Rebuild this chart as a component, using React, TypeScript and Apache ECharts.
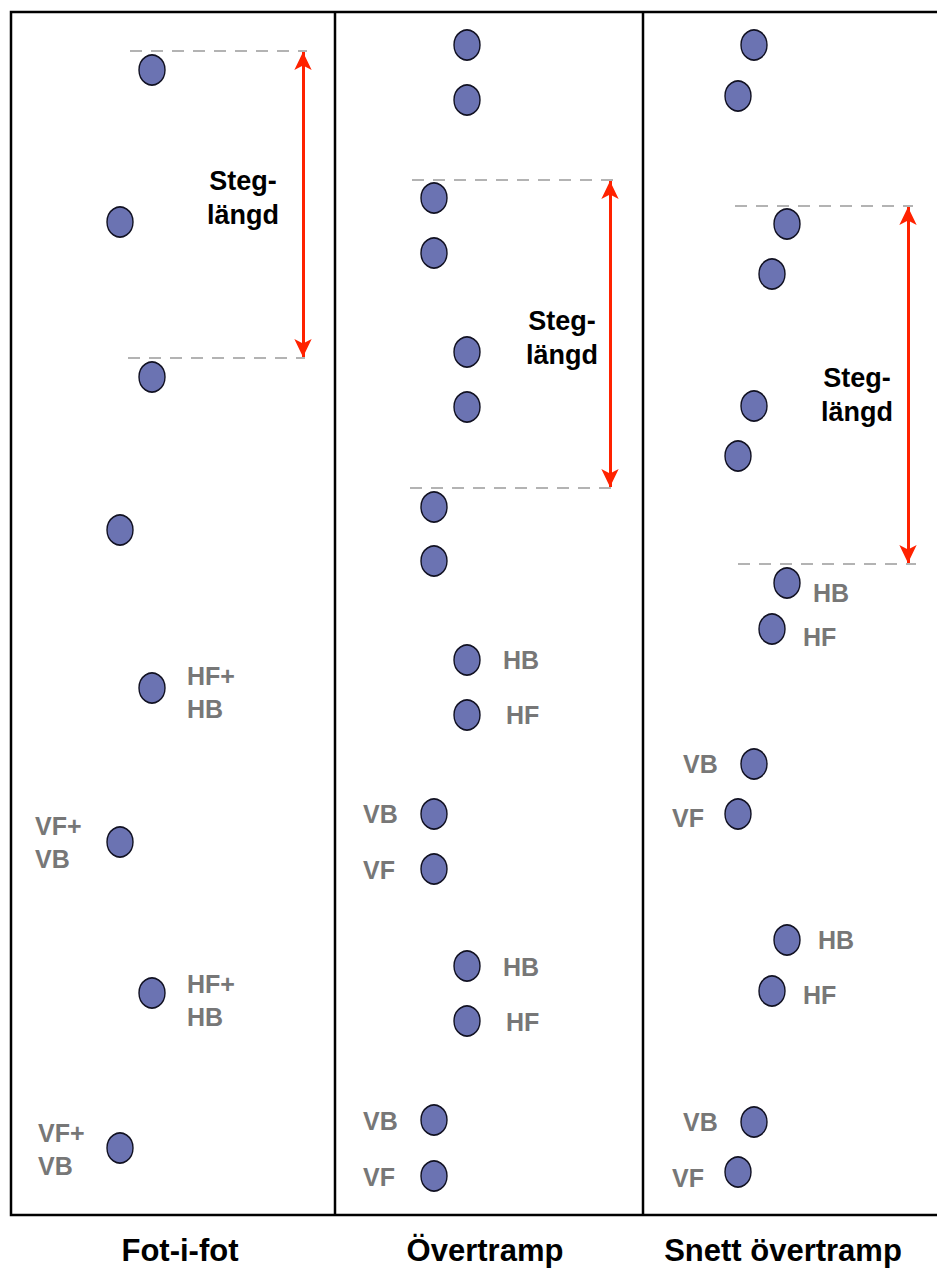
import React, { useEffect, useRef } from "react";
import * as echarts from "echarts";

const W = 937;
const H = 1269;

// Hoof prints [x, y] per panel
const fotPrints = [
  [152, 70], [120, 222], [152, 377], [120, 530],
  [152, 688], [120, 842], [152, 993], [120, 1148],
];
const overPrints = [
  [467, 45], [467, 100], [434, 198], [434, 253],
  [467, 352], [467, 407], [434, 507], [434, 561],
  [467, 660], [467, 715], [434, 814], [434, 869],
  [467, 966], [467, 1021], [434, 1120], [434, 1176],
];
const snettPrints = [
  [754, 45], [738, 96], [787, 224], [772, 274],
  [754, 406], [738, 456], [787, 583], [772, 629],
  [754, 764], [738, 814], [787, 940], [772, 991],
  [754, 1122], [738, 1172],
];

// Grey hoof labels
const hoofLabelTexts = [
  "HF+\nHB", "VF+\nVB", "HF+\nHB", "VF+\nVB",
  "HB", "HF", "VB", "VF", "HB", "HF", "VB", "VF",
  "HB", "HF", "VB", "VF", "HB", "HF", "VB", "VF",
];
const hoofLabelX = [
  187, 35, 187, 38,
  503, 506, 363, 363, 503, 506, 363, 363,
  813, 803, 683, 672, 818, 803, 683, 672,
];
const hoofLabelY = [
  692, 842, 1000, 1149,
  660, 715, 814, 870, 967, 1022, 1121, 1177,
  593, 637, 764, 818, 940, 995, 1122, 1178,
];

// "Steg-längd" labels
const stegText = "Steg-\nlängd";
const stegX = [243, 562, 857];
const stegY = [198, 338, 395];

// Dashed reference lines [x1, x2, y]
const dashLines = [
  [130, 307, 51], [128, 305, 358],
  [412, 622, 180], [410, 620, 488],
  [735, 913, 206], [738, 916, 564],
];
// Arrows [x, y1, y2]
const arrows = [
  [303, 52, 357],
  [610, 181, 487],
  [908, 207, 563],
];

// Panel titles
const titles = ["Fot-i-fot", "Övertramp", "Snett övertramp"];
const titleX = [180, 485, 783];
const titleY = [1250, 1250, 1250];

// Frame
const frameTop = 12;
const frameBottom = 1215;
const frameLeft = 11;
const dividers = [335, 643];

const FONT = "'Liberation Sans', Arial, sans-serif";

export default function App() {
  const ref = useRef<HTMLDivElement>(null);

  useEffect(() => {
    if (!ref.current) return;
    const chart = echarts.init(ref.current, undefined, { renderer: "svg" });

    const prints = [...fotPrints, ...overPrints, ...snettPrints];

    const option: any = {
      animation: false,
      backgroundColor: "#ffffff",
      grid: { left: 0, top: 0, width: W, height: H },
      xAxis: { type: "value", min: 0, max: W, show: false },
      yAxis: { type: "value", min: 0, max: H, inverse: true, show: false },
      graphic: [
        {
          type: "rect",
          shape: { x: frameLeft, y: frameTop, width: 1000, height: frameBottom - frameTop },
          style: { fill: "none", stroke: "#000", lineWidth: 2.5 },
          z: 1,
        },
        ...dividers.map((x) => ({
          type: "line",
          shape: { x1: x, y1: frameTop, x2: x, y2: frameBottom },
          style: { stroke: "#000", lineWidth: 2.5 },
          z: 1,
        })),
      ],
      series: [
        {
          type: "line",
          data: [],
          silent: true,
          markLine: {
            silent: true,
            symbol: ["none", "none"],
            label: { show: false },
            lineStyle: { color: "#9a9a9a", width: 1.5, type: [12, 9], opacity: 1 },
            data: dashLines.map((d) => [
              { coord: [d[0], d[2]] },
              { coord: [d[1], d[2]] },
            ]),
          },
        },
        {
          type: "line",
          data: [],
          silent: true,
          markLine: {
            silent: true,
            symbol: ["arrow", "arrow"],
            symbolSize: [13, 18],
            label: { show: false },
            lineStyle: { color: "#ff2200", width: 3, type: "solid", opacity: 1 },
            data: arrows.map((a) => [
              { coord: [a[0], a[1]] },
              { coord: [a[0], a[2]] },
            ]),
          },
        },
        {
          type: "scatter",
          clip: false,
          silent: true,
          symbol: "circle",
          symbolSize: [26, 30],
          itemStyle: { color: "#6b73b2", borderColor: "#111122", borderWidth: 1.5, opacity: 1 },
          data: prints,
          z: 5,
        },
        {
          type: "scatter",
          clip: false,
          silent: true,
          symbolSize: 0,
          itemStyle: { opacity: 1 },
          data: hoofLabelTexts.map((t, i) => ({ name: t, value: [hoofLabelX[i], hoofLabelY[i]] })),
          label: {
            show: true,
            position: "right",
            distance: 0,
            formatter: "{b}",
            color: "#777777",
            opacity: 1,
            fontSize: 25,
            fontWeight: "bold",
            fontFamily: FONT,
            lineHeight: 33,
            align: "left",
          },
          z: 6,
        },
        {
          type: "scatter",
          clip: false,
          silent: true,
          symbolSize: 0,
          itemStyle: { opacity: 1 },
          data: stegX.map((x, i) => ({ name: stegText, value: [x, stegY[i]] })),
          label: {
            show: true,
            position: "inside",
            formatter: "{b}",
            color: "#000000",
            opacity: 1,
            fontSize: 27,
            fontWeight: "bold",
            fontFamily: FONT,
            lineHeight: 34,
            align: "center",
            verticalAlign: "middle",
          },
          z: 6,
        },
        {
          type: "scatter",
          clip: false,
          silent: true,
          symbolSize: 0,
          itemStyle: { opacity: 1 },
          data: titles.map((t, i) => ({ name: t, value: [titleX[i], titleY[i]] })),
          label: {
            show: true,
            position: "inside",
            formatter: "{b}",
            color: "#000000",
            opacity: 1,
            fontSize: 31,
            lineHeight: 31,
            fontWeight: "bold",
            fontFamily: FONT,
            align: "center",
            verticalAlign: "middle",
          },
          z: 6,
        },
      ],
    };

    chart.setOption(option);
    return () => chart.dispose();
  }, []);

  return (
    <div
      ref={ref}
      style={{ position: "fixed", left: 0, top: 0, width: W, height: H, background: "#fff" }}
    />
  );
}
